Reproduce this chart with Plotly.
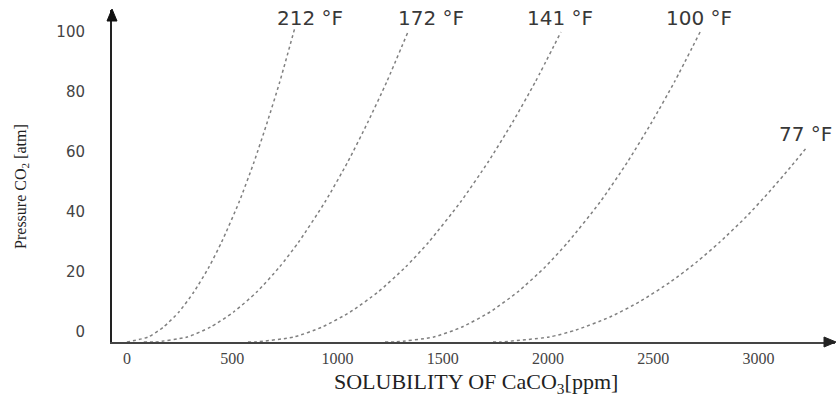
import plotly.graph_objects as go

# ---- data (solubility of CaCO3 in ppm vs CO2 pressure in atm) ----
x_212 = [0, 101, 174, 247, 318, 390, 450, 533, 604, 667, 726, 799]
y_212 = [-3.33, -1.67, 1.67, 6.67, 13.33, 21.67, 30, 43.33, 56.67, 70, 83.33, 101.67]

x_172 = [80, 134, 286, 398, 507, 617, 725, 816, 941, 1049, 1145, 1234, 1335]
y_172 = [-3.33, -3.33, -1.67, 1.67, 6.67, 13.33, 21.67, 30, 43.33, 56.67, 70, 83.33, 100]

x_141 = [575, 609, 793, 928, 1061, 1193, 1324, 1434, 1585, 1716, 1833, 1940, 2062]
y_141 = [-3.33, -3.33, -1.67, 1.67, 6.67, 13.33, 21.67, 30, 43.33, 56.67, 70, 83.33, 100]

x_100 = [1226, 1274, 1458, 1592, 1725, 1856, 1987, 2096, 2248, 2378, 2494, 2601, 2723]
y_100 = [-3.33, -3.33, -1.67, 1.67, 6.67, 13.33, 21.67, 30, 43.33, 56.67, 70, 83.33, 100]

x_77 = [1739, 1772, 2006, 2134, 2295, 2433, 2582, 2707, 2817, 2941, 3051, 3153, 3231]
y_77 = [-3.33, -3.33, -1.67, 0.67, 5, 10, 16.67, 23.33, 30, 38.33, 46.67, 55, 61.67]

series = [
    ("212 °F", x_212, y_212),
    ("172 °F", x_172, y_172),
    ("141 °F", x_141, y_141),
    ("100 °F", x_100, y_100),
    ("77 °F", x_77, y_77),
]

# curve-name label positions (data coordinates)
label_x = [870, 1444, 2057, 2718, 3222]
label_y = [104.8, 104.8, 104.8, 104.8, 66]

x_ticks = [0, 500, 1000, 1500, 2000, 2500, 3000]
y_ticks = [0, 20, 40, 60, 80, 100]

fig = go.Figure()
for name, xs, ys in series:
    fig.add_trace(go.Scatter(
        x=xs, y=ys, mode="lines", name=name, showlegend=False,
        line=dict(color="#808080", width=1.5, dash="dot", shape="spline", smoothing=0.6),
        hoverinfo="skip",
    ))

for (name, _, _), lx, ly in zip(series, label_x, label_y):
    fig.add_annotation(x=lx, y=ly, xref="x", yref="y", text=name, showarrow=False,
                       font=dict(family="DejaVu Sans", size=20, color="#383838"),
                       xanchor="center", yanchor="middle")

# axis arrowheads (pixel-sized triangles anchored at the axis ends)
fig.add_shape(type="path", xref="paper", yref="paper", xsizemode="pixel", ysizemode="pixel",
              xanchor=1, yanchor=0, path="M 1,0 L -11,5 L -11,-5 Z",
              fillcolor="#222", line=dict(color="#222", width=1))
fig.add_shape(type="path", xref="paper", yref="paper", xsizemode="pixel", ysizemode="pixel",
              xanchor=0, yanchor=1, path="M 0,1 L -5,-11 L 5,-11 Z",
              fillcolor="#111", line=dict(color="#111", width=1))

# axis titles
fig.add_annotation(x=0.5035, y=-0.122, xref="paper", yref="paper",
                   text="SOLUBILITY OF CaCO<sub>3</sub>[ppm]", showarrow=False,
                   font=dict(family="Liberation Serif", size=22, color="#222"),
                   xanchor="center", yanchor="middle")
fig.add_annotation(x=-0.1245, y=0.47, xref="paper", yref="paper",
                   text="Pressure CO<sub>2</sub> [atm]", showarrow=False, textangle=-90,
                   font=dict(family="Liberation Serif", size=16, color="#222"),
                   xanchor="center", yanchor="middle")

fig.update_layout(
    width=839, height=398,
    margin=dict(l=112, r=4, t=10, b=56),
    paper_bgcolor="white", plot_bgcolor="white",
    xaxis=dict(range=[-70.8, 3363.9], showgrid=False, zeroline=False,
               showline=True, linecolor="#444", linewidth=2,
               tickmode="array", tickvals=x_ticks, ticks="",
               ticklabelstandoff=1,
               tickfont=dict(family="Liberation Serif", size=16, color="#444")),
    yaxis=dict(range=[-3.333, 107.333], showgrid=False, zeroline=False,
               showline=True, linecolor="#222", linewidth=2,
               tickmode="array", tickvals=y_ticks, ticks="",
               ticklabelstandoff=22,
               tickfont=dict(family="DejaVu Sans", size=15, color="#444")),
)

fig.write_html("out.html")
